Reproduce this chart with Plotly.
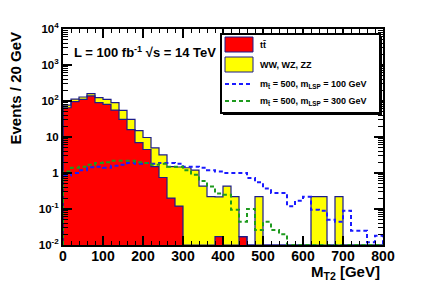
import numpy as np
import plotly.graph_objects as go

# ---------------- data ----------------
bin_edges = list(range(0, 820, 20))  # M_T2 bins, GeV

ttbar = [65, 96, 111, 138, 90, 81, 56, 31, 16, 7,
         4.5, 1.5, 0.75, 0.2, 0.12, 0, 0, 0, 0, 0.017,
         0, 0, 0.017, 0, 0, 0, 0, 0, 0, 0,
         0, 0, 0, 0, 0, 0, 0, 0, 0, 0]

diboson = [12, 17, 18, 22, 34, 30, 34, 24, 15, 8,
           5.2, 3.5, 2.45, 1.3, 1.35, 1.4, 1.2, 0.43, 0.22, 0.2,
           0.43, 0.22, 0, 0, 0.22, 0, 0, 0, 0, 0,
           0, 0.22, 0.22, 0, 0.22, 0, 0, 0, 0, 0]

sig_lsp100 = [0.85, 1.0, 1.2, 1.45, 1.5, 1.4, 1.6, 1.7, 1.9, 1.8,
              1.9, 1.8, 1.9, 1.9, 1.8, 1.5, 1.5, 1.4, 1.2, 1.1,
              1.0, 1.0, 1.0, 0.73, 0.55, 0.37, 0.28, 0.28, 0.12, 0.17,
              0.22, 0.095, 0.09, 0.05, 0.044, 0.09, 0.025, 0.025, 0.012, 0.018]

sig_lsp300 = [1.1, 1.4, 1.5, 1.7, 1.9, 2.0, 2.2, 2.2, 2.2, 2.0,
              1.9, 1.7, 1.8, 1.5, 1.5, 1.2, 0.9, 0.6, 0.42, 0.27,
              0.25, 0.095, 0.044, 0.1, 0.026, 0.044, 0.026, 0.02, 0, 0,
              0, 0, 0, 0, 0, 0, 0, 0, 0, 0]

x_ticks = [0, 100, 200, 300, 400, 500, 600, 700, 800]
y_tickvals = [1e-2, 1e-1, 1, 10, 1e2, 1e3, 1e4]
y_ticktext = ["10<sup>-2</sup>", "10<sup>-1</sup>", "1", "10",
              "10<sup>2</sup>", "10<sup>3</sup>", "10<sup>4</sup>"]

# ---------------- helpers ----------------
YMIN, YMAX = 1e-2, 1e4
edges = np.array(bin_edges, dtype=float)
centers = (edges[:-1] + edges[1:]) / 2
width = edges[1] - edges[0]
total = [a + b for a, b in zip(ttbar, diboson)]

PAGE = 8                      # default body margin of the html page
W, H = 425 - PAGE, 288 - PAGE
L, R, T, B = 63 - PAGE, 42, 29 - PAGE, 43
PW, PH = W - L - R, H - T - B


def px(xp):      # xp: pixel in the browser window
    return (xp - PAGE - L) / PW


def py(yp):
    return (H - B - (yp - PAGE)) / PH


def step_xy(vals):
    v = [max(float(a), YMIN) for a in vals]
    xs = [edges[0]] + list(edges[:-1]) + [edges[-1], edges[-1]]
    ys = [YMIN] + v + [v[-1], YMIN]
    return xs, ys


def nz(vals):
    return [a if a > 0 else None for a in vals]


FONT = "Liberation Sans"
OUTLINE = "#1c1c8a"
BLUE = "#1a1aff"
GREEN = "#1e9a1e"

fig = go.Figure()

fig.add_trace(go.Bar(x=centers, y=nz(total), width=width, marker_color="#ffff00",
                     marker_line_width=0, name="WW, WZ, ZZ", showlegend=False))
fig.add_trace(go.Bar(x=centers, y=nz(ttbar), width=width, marker_color="#ff0000",
                     marker_line_width=0, name="tt\u0304", showlegend=False))

for vals in (total, ttbar):
    xs, ys = step_xy(vals)
    fig.add_trace(go.Scatter(x=xs, y=ys, mode="lines", line_shape="hv",
                             line=dict(color=OUTLINE, width=1.2),
                             showlegend=False, hoverinfo="skip"))

for vals, col in ((sig_lsp100, BLUE), (sig_lsp300, GREEN)):
    xs, ys = step_xy(vals)
    fig.add_trace(go.Scatter(x=xs, y=ys, mode="lines", line_shape="hv",
                             line=dict(color=col, width=2, dash="4px,3px"),
                             showlegend=False))

y_minor = [k * 10.0 ** e for e in range(-2, 4) for k in range(2, 10)]

fig.update_layout(
    width=W, height=H, autosize=False,
    margin=dict(l=L, r=R, t=T, b=B),
    paper_bgcolor="white", plot_bgcolor="white",
    barmode="overlay", bargap=0,
    showlegend=False,
    font=dict(family=FONT, color="black"),
    xaxis=dict(range=[0, 800], showline=True, linewidth=2, linecolor="black",
               mirror="allticks", ticks="inside", ticklen=9, tickwidth=1.5,
               tickcolor="black", tickvals=x_ticks, ticklabelstandoff=-3,
               tickfont=dict(family=FONT, size=14, weight="bold"),
               showgrid=False, zeroline=False,
               minor=dict(ticks="inside", ticklen=4, tickwidth=1.2,
                          tickcolor="black", dtick=20, tick0=0, showgrid=False)),
    yaxis=dict(type="log", range=[-2, 4], showline=True, linewidth=2,
               linecolor="black", mirror="allticks", ticks="inside",
               ticklen=9, tickwidth=1.5, tickcolor="black",
               tickvals=y_tickvals, ticktext=y_ticktext,
               tickfont=dict(family=FONT, size=11.5, weight="bold"),
               showgrid=False, zeroline=False,
               minor=dict(ticks="inside", ticklen=5, tickwidth=1.2,
                          tickcolor="black", tickvals=y_minor, showgrid=False)),
)

ann = []
ann.append(dict(text="Events / 20 GeV", textangle=-90, x=px(15), y=py(30),
                xref="paper", yref="paper", xanchor="center", yanchor="top",
                showarrow=False, font=dict(size=15, weight="bold")))
ann.append(dict(text="M<sub>T2</sub> [GeV]", x=px(382), y=py(272),
                xref="paper", yref="paper", xanchor="right", yanchor="middle",
                showarrow=False, font=dict(size=15, weight="bold")))
ann.append(dict(text="L = 100 fb<sup>-1</sup> \u221As = 14 TeV", x=px(72), y=py(52),
                xref="paper", yref="paper", xanchor="left", yanchor="middle",
                showarrow=False, font=dict(size=13, weight="bold")))

# legend (drawn by hand to match the box sizes)
shapes = []
shapes.append(dict(type="rect", xref="paper", yref="paper",
                   x0=px(223), x1=px(382), y0=py(115), y1=py(36),
                   fillcolor="black", line=dict(width=0), layer="above"))
shapes.append(dict(type="rect", xref="paper", yref="paper",
                   x0=px(221), x1=px(380), y0=py(113), y1=py(34),
                   fillcolor="white", line=dict(color="black", width=2), layer="above"))
shapes.append(dict(type="rect", xref="paper", yref="paper",
                   x0=px(225), x1=px(253), y0=py(52), y1=py(37),
                   fillcolor="#ff0000", line=dict(color=OUTLINE, width=1), layer="above"))
shapes.append(dict(type="rect", xref="paper", yref="paper",
                   x0=px(225), x1=px(253), y0=py(72), y1=py(57),
                   fillcolor="#ffff00", line=dict(color=OUTLINE, width=1), layer="above"))
shapes.append(dict(type="line", xref="paper", yref="paper",
                   x0=px(225), x1=px(253), y0=py(84), y1=py(84),
                   line=dict(color=BLUE, width=2, dash="4px,3px"), layer="above"))
shapes.append(dict(type="line", xref="paper", yref="paper",
                   x0=px(225), x1=px(253), y0=py(101), y1=py(101),
                   line=dict(color=GREEN, width=2, dash="4px,3px"), layer="above"))

leg_labels = ["tt\u0304", "WW, WZ, ZZ",
              "m<sub>t\u0303</sub> = 500, m<sub>LSP</sub> = 100 GeV",
              "m<sub>t\u0303</sub> = 500, m<sub>LSP</sub> = 300 GeV"]
leg_rows = [44.5, 64.5, 84, 101]
for lab, yr in zip(leg_labels, leg_rows):
    ann.append(dict(text=lab, x=px(258), y=py(yr), xref="paper", yref="paper",
                    xanchor="left", yanchor="middle", showarrow=False,
                    font=dict(size=9, weight="bold")))

fig.update_layout(annotations=ann, shapes=shapes)
fig.write_html("out.html")
